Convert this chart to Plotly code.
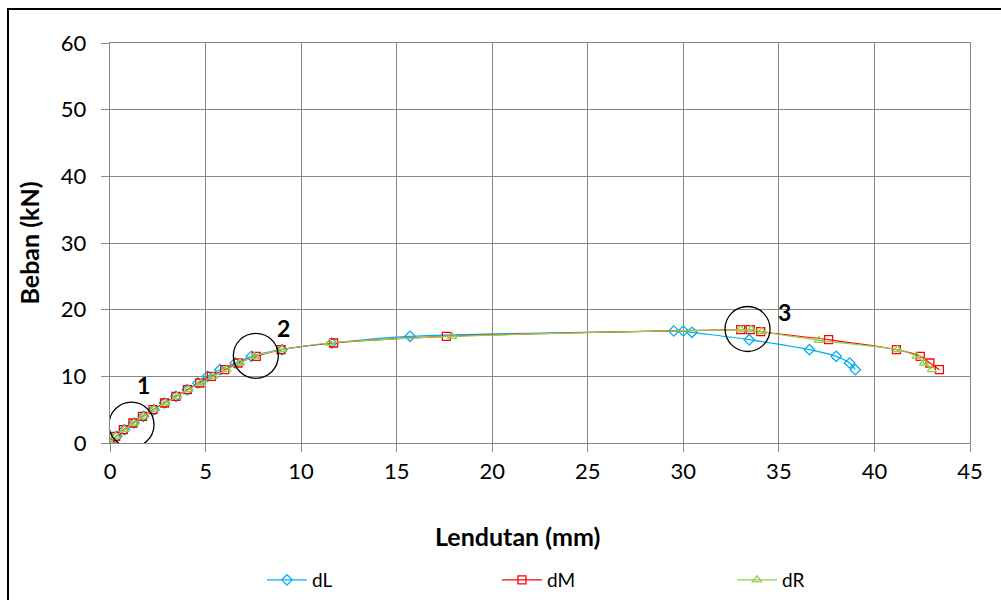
import plotly.graph_objects as go

# ---- data ----
load_dL = [0, 1, 2, 3, 4, 5, 6, 7, 8, 9, 10, 11, 12, 13, 14, 15, 16,
           16.8, 16.8, 16.6, 15.5, 14.0, 13.0, 12.0, 11.0]
defl_dL = [0, 0.35, 0.75, 1.25, 1.75, 2.3, 2.85, 3.45, 4.05, 4.6, 5.1, 5.75, 6.55, 7.4, 9.0, 11.6, 15.7,
           29.5, 30.0, 30.45, 33.45, 36.6, 38.0, 38.7, 39.0]

load_dM = [0, 1, 2, 3, 4, 5, 6, 7, 8, 9, 10, 11, 12, 13, 14, 15, 16,
           17.0, 17.0, 16.7, 15.5, 14.0, 13.0, 12.0, 11.0]
defl_dM = [0, 0.3, 0.7, 1.2, 1.7, 2.25, 2.85, 3.45, 4.05, 4.7, 5.3, 6.0, 6.7, 7.65, 8.95, 11.7, 17.6,
           33.0, 33.5, 34.05, 37.6, 41.15, 42.4, 42.9, 43.4]

load_dR = [0, 1, 2, 3, 4, 5, 6, 7, 8, 9, 10, 11, 12, 13, 14, 15, 16,
           17.0, 17.0, 16.7, 15.4, 14.0, 13.0, 12.0, 11.0]
defl_dR = [0, 0.3, 0.75, 1.25, 1.75, 2.3, 2.9, 3.5, 4.1, 4.75, 5.4, 6.1, 6.8, 7.55, 9.0, 11.5, 17.9,
           33.0, 33.55, 34.1, 37.1, 41.2, 42.2, 42.6, 43.0]

marker_labels = ["1", "2", "3"]
circle_x = [1.125, 7.63, 33.36]
circle_y = [2.75, 13.08, 17.1]
label_x = [1.73, 9.08, 35.27]
label_y = [8.7, 17.25, 19.7]

x_ticks = [0, 5, 10, 15, 20, 25, 30, 35, 40, 45]
y_ticks = [0, 10, 20, 30, 40, 50, 60]

FONT = "Lato, 'Open Sans', sans-serif"

fig = go.Figure()
series = [
    ("dL", defl_dL, load_dL, "#00B0F0", "diamond-open"),
    ("dM", defl_dM, load_dM, "#FF0000", "square-open"),
    ("dR", defl_dR, load_dR, "#92D050", "triangle-up-open"),
]
for name, xs, ys, col, sym in series:
    fig.add_trace(go.Scatter(
        x=xs, y=ys, name=name, mode="lines+markers",
        line=dict(color=col, width=1.2, shape="spline", smoothing=0.8),
        marker=dict(symbol=sym, size=8, color=col, line=dict(color=col, width=1.3)),
    ))

shapes = []
for cx, cy in zip(circle_x, circle_y):
    shapes.append(dict(type="circle", xref="x", yref="y", xsizemode="pixel", ysizemode="pixel",
                       xanchor=cx, yanchor=cy, x0=-22.5, x1=22.5, y0=-22.5, y1=22.5,
                       line=dict(color="black", width=1.3)))
# outer chart border
shapes.append(dict(type="rect", xref="paper", yref="paper",
                   x0=-0.1186, x1=1.06, y0=-0.45, y1=1.085,
                   line=dict(color="black", width=2)))

annotations = []
for t, lx, ly in zip(marker_labels, label_x, label_y):
    annotations.append(dict(x=lx, y=ly, xref="x", yref="y", text=f"<b>{t}</b>",
                            showarrow=False, font=dict(family=FONT, size=23, color="black")))
# x-axis title, centred on the chart area as in the reference
annotations.append(dict(x=0.4733, y=-0.2325, xref="paper", yref="paper",
                        text="<b>Lendutan (mm)</b>", showarrow=False,
                        xanchor="center", yanchor="middle",
                        font=dict(family=FONT, size=25, color="black")))

fig.update_layout(
    width=1001, height=600,
    margin=dict(l=110, r=31, t=43, b=157),
    paper_bgcolor="white", plot_bgcolor="white",
    font=dict(family=FONT, size=22, color="black"),
    shapes=shapes, annotations=annotations,
    showlegend=True,
    legend=dict(orientation="h", xref="container", yref="container",
                x=0.2617, y=0.0333, xanchor="left", yanchor="middle",
                entrywidth=180, entrywidthmode="pixels",
                font=dict(family=FONT, size=19, color="black"), itemwidth=40),
)
fig.update_xaxes(
    range=[0, 45], tickvals=x_ticks, ticktext=[str(v) for v in x_ticks],
    tickfont=dict(family=FONT, size=22),
    showgrid=True, gridcolor="#878787", gridwidth=1.4,
    showline=True, linecolor="#878787", linewidth=1.4, mirror=True,
    ticks="outside", ticklen=8, tickcolor="#878787", tickwidth=1.4,
    zeroline=False,
)
fig.update_yaxes(
    range=[0, 60], tickvals=y_ticks, ticktext=[str(v) for v in y_ticks],
    tickfont=dict(family=FONT, size=22),
    showgrid=True, gridcolor="#878787", gridwidth=1.4,
    showline=True, linecolor="#878787", linewidth=1.4, mirror=True,
    ticks="outside", ticklen=8, tickcolor="#878787", tickwidth=1.4,
    zeroline=False, ticklabelstandoff=10,
    title=dict(text="<b>Beban (kN)</b>", font=dict(family=FONT, size=25), standoff=14),
)

fig.write_html("out.html")
